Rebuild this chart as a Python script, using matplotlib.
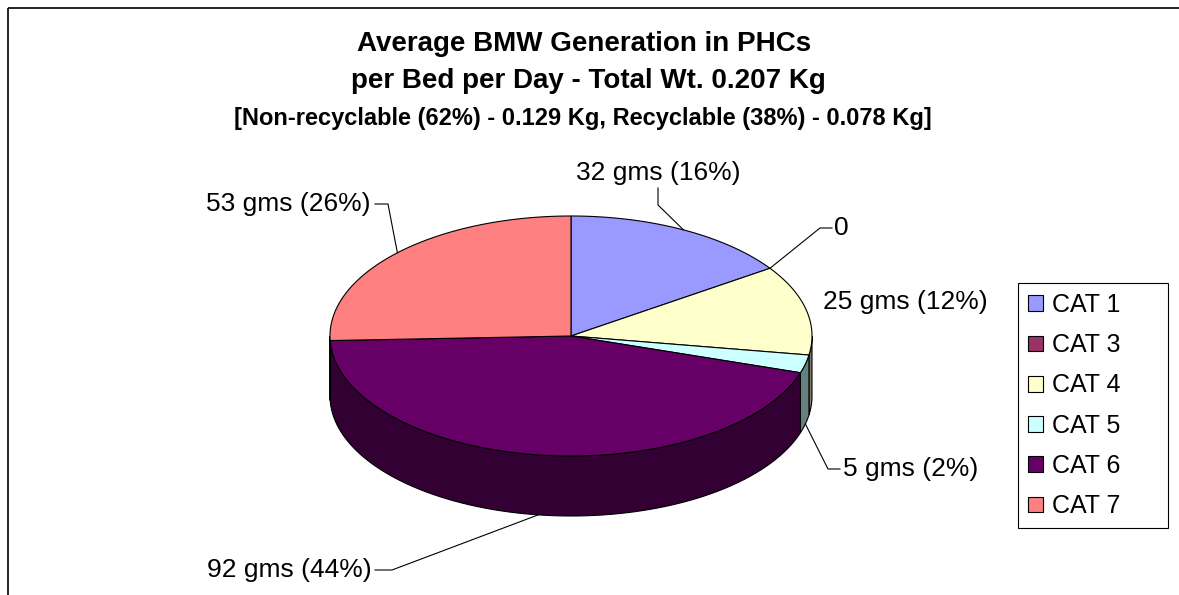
import numpy as np
import matplotlib.pyplot as plt
from matplotlib.patches import Patch, Rectangle
from matplotlib.colors import to_rgb

# data
categories = ['CAT 1', 'CAT 3', 'CAT 4', 'CAT 5', 'CAT 6', 'CAT 7']
weights_gms = [32, 0, 25, 5, 92, 53]
percent_shown = [16, 0, 12, 2, 44, 26]
colors = ['#9999FF', '#993366', '#FFFFCC', '#CCFFFF', '#660066', '#FF8080']

title_lines = [
    'Average BMW Generation in PHCs',
    'per Bed per Day - Total Wt. 0.207 Kg',
    '[Non-recyclable (62%) - 0.129 Kg, Recyclable (38%) - 0.078 Kg]',
]

# layout (pixels): pie centre, radii, thickness
CX, CY, RA, RB, DEPTH = 571, 336, 241, 120, 60
label_xy = [(658, 173), (841, 228), (905, 302), (911, 469), (289, 570), (288, 204)]
# leader line start + elbow for each label (None = no leader)
leaders = [
    [(658, 188), (658, 205)],
    [(832, 228), (820, 228)],
    None,
    [(840, 469), (828, 469)],
    [(375, 570), (392, 570)],
    [(375, 204), (388, 204)],
]

plt.rcParams['font.family'] = ['Liberation Sans', 'DejaVu Sans']

fig = plt.figure(figsize=(11.79, 5.95), dpi=100)
ax = fig.add_axes([0, 0, 1, 1])
ax.set_xlim(0, 1179)
ax.set_ylim(595, 0)
ax.axis('off')

# chart border
ax.add_patch(Rectangle((8, 8), 1300, 700, fill=False, edgecolor='black', lw=1.2))

total = sum(weights_gms)
bounds = np.concatenate([[0], np.cumsum(weights_gms)]) / total * 360.0


def top_pt(deg, drop=0):
    t = np.radians(deg)
    return CX + RA * np.sin(t), CY - RB * np.cos(t) + drop


def darker(c):
    return tuple(0.5 * v for v in to_rgb(c))


# side walls (front half only: 90..270 deg clockwise from top)
for i, c in enumerate(colors):
    s, e = max(bounds[i], 90), min(bounds[i + 1], 270)
    if e <= s:
        continue
    t = np.linspace(s, e, 80)
    xs, ys = top_pt(t)
    px = np.concatenate([xs, xs[::-1]])
    py = np.concatenate([ys, (ys + DEPTH)[::-1]])
    ax.fill(px, py, facecolor=darker(c), edgecolor='black', lw=0.8, zorder=2)

# top faces
for i, c in enumerate(colors):
    if weights_gms[i] == 0:
        continue
    t = np.linspace(bounds[i], bounds[i + 1], 200)
    xs, ys = top_pt(t)
    ax.fill(np.concatenate([[CX], xs]), np.concatenate([[CY], ys]),
            facecolor=c, edgecolor='black', lw=0.8, zorder=3)

# data labels with leader lines
for i, v in enumerate(weights_gms):
    txt = '0' if v == 0 else f'{v} gms ({percent_shown[i]}%)'
    ax.text(*label_xy[i], txt, ha='center', va='center', fontsize=19, zorder=5)
    if leaders[i] is None:
        continue
    mid = (bounds[i] + bounds[i + 1]) / 2
    drop = DEPTH if 90 < mid < 270 else 0
    anchor = top_pt(mid, drop)
    pts = leaders[i] + [anchor]
    ax.plot([p[0] for p in pts], [p[1] for p in pts], color='black', lw=0.8, zorder=4)

# title
ax.text(584, 44, title_lines[0], ha='center', va='center', fontsize=20, fontweight='bold')
ax.text(588, 81, title_lines[1], ha='center', va='center', fontsize=20, fontweight='bold')
ax.text(583, 118, title_lines[2], ha='center', va='center', fontsize=17, fontweight='bold')

# legend
handles = [Patch(facecolor=c, edgecolor='black', lw=0.8) for c in colors]
leg = fig.legend(handles, categories, loc='upper left', mode='expand',
                 bbox_to_anchor=(1018 / 1179, 1 - 283 / 595, 150 / 1179, 0),
                 borderaxespad=0, fancybox=False, edgecolor='black', framealpha=1,
                 prop={'size': 18}, handlelength=0.6, handleheight=0.6,
                 handletextpad=0.35, labelspacing=0.65, borderpad=0.4)
leg.get_frame().set_linewidth(0.8)

fig.savefig('out.png', dpi=100)
